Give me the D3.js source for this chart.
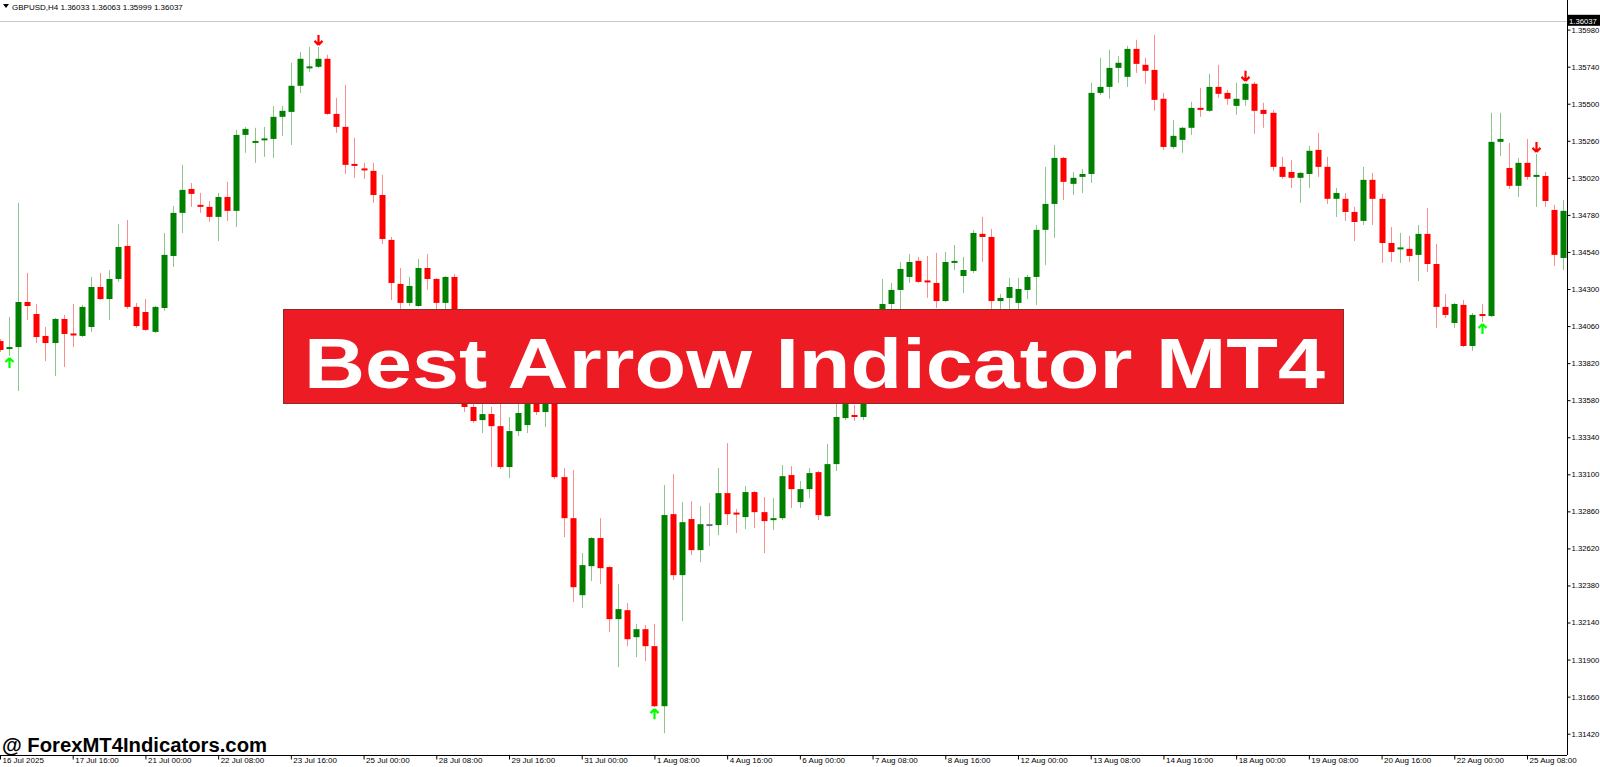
<!DOCTYPE html>
<html><head><meta charset="utf-8">
<script src="https://cdn.jsdelivr.net/npm/d3@7/dist/d3.min.js"></script>
<style>html,body{margin:0;padding:0;background:#fff;overflow:hidden}</style>
</head><body>
<svg id="c" width="1600" height="767"></svg>
<script>
// ---------------- data ----------------
const symbol = "GBPUSD,H4";
const headerQuote = ["1.36033", "1.36063", "1.35999", "1.36037"];
const bidPrice = 1.36037;

const openP = [
1.33963,1.33911,1.33924,1.34216,1.34138,1.33996,1.33950,1.34106,1.34009,1.33996,
1.34054,1.34313,1.34235,1.34365,1.34579,1.34184,1.34151,1.34022,1.34177,1.34514,
1.34793,1.34948,1.34845,1.34832,1.34767,1.34896,1.34806,1.35298,1.35246,1.35266,
1.35272,1.35415,1.35447,1.35616,1.35732,1.35739,1.35791,1.35434,1.35350,1.35110,
1.35078,1.35065,1.34909,1.34618,1.34333,1.34210,1.34190,1.34436,1.34365,1.34210,
1.34378,1.33937,1.33536,1.33451,1.33490,1.33412,1.33147,1.33380,1.33419,1.33613,
1.33503,1.33646,1.33082,1.32816,1.32317,1.32505,1.32687,1.32499,1.32162,1.32220,
1.32045,1.32097,1.31987,1.31598,1.32842,1.32447,1.32810,1.32609,1.32771,1.32771,
1.32978,1.32849,1.32823,1.32985,1.32855,1.32803,1.32816,1.33095,1.32920,1.33004,
1.33114,1.32829,1.33166,1.33464,1.33484,1.33471,1.33711,1.34002,1.34203,1.34294,
1.34378,1.34482,1.34352,1.34339,1.34222,1.34469,1.34384,1.34417,1.34657,1.34637,
1.34222,1.34242,1.34210,1.34294,1.34378,1.34683,1.34851,1.35149,1.34981,1.35026,
1.35045,1.35570,1.35609,1.35732,1.35674,1.35855,1.35752,1.35719,1.35532,1.35220,
1.35266,1.35344,1.35473,1.35454,1.35609,1.35570,1.35486,1.35525,1.35629,1.35460,
1.35441,1.35091,1.35058,1.35020,1.35045,1.35201,1.35091,1.34884,1.34884,1.34799,
1.34741,1.35007,1.34884,1.34598,1.34560,1.34560,1.34521,1.34657,1.34462,1.34184,
1.34080,1.34197,1.33931,1.34138,1.34125,1.35253,1.35084,1.34968,1.35117,1.35026,
1.35032,1.34812,1.34501];
const highP = [
1.33976,1.34119,1.34858,1.34404,1.34203,1.34054,1.34112,1.34132,1.34203,1.34197,
1.34378,1.34404,1.34423,1.34721,1.34747,1.34210,1.34235,1.34190,1.34663,1.34838,
1.35104,1.34987,1.34922,1.34870,1.34922,1.34994,1.35331,1.35350,1.35344,1.35350,
1.35486,1.35486,1.35765,1.35836,1.35868,1.35868,1.35817,1.35538,1.35622,1.35279,
1.35117,1.35117,1.35039,1.34637,1.34436,1.34378,1.34495,1.34527,1.34372,1.34384,
1.34397,1.33983,1.33581,1.33594,1.33536,1.33581,1.33471,1.33594,1.33646,1.33672,
1.33711,1.33691,1.33140,1.33127,1.32590,1.32693,1.32816,1.32505,1.32389,1.32266,
1.32130,1.32123,1.32130,1.33030,1.33101,1.32920,1.32926,1.32894,1.32914,1.33140,
1.33302,1.32875,1.33024,1.32991,1.32952,1.32946,1.33160,1.33153,1.33056,1.33140,
1.33121,1.33296,1.33562,1.33594,1.33549,1.33762,1.34067,1.34365,1.34339,1.34475,
1.34527,1.34508,1.34514,1.34534,1.34540,1.34585,1.34508,1.34683,1.34767,1.34689,
1.34268,1.34372,1.34372,1.34391,1.34715,1.35091,1.35233,1.35156,1.35058,1.35078,
1.35635,1.35797,1.35849,1.35809,1.35875,1.35914,1.35797,1.35946,1.35570,1.35395,
1.35350,1.35512,1.35603,1.35693,1.35752,1.35590,1.35635,1.35635,1.35642,1.35506,
1.35460,1.35156,1.35136,1.35058,1.35227,1.35311,1.35156,1.34955,1.34922,1.34832,
1.35091,1.35052,1.34916,1.34702,1.34663,1.34644,1.34715,1.34825,1.34592,1.34268,
1.34210,1.34229,1.34145,1.34203,1.35441,1.35441,1.35246,1.35149,1.35272,1.35175,
1.35058,1.34845,1.34877];
const lowP = [
1.33892,1.33866,1.33639,1.34099,1.33950,1.33834,1.33736,1.33795,1.33924,1.33989,
1.34022,1.34229,1.34099,1.34346,1.34171,1.34048,1.34028,1.34015,1.34158,1.34443,
1.34663,1.34832,1.34793,1.34734,1.34611,1.34741,1.34702,1.35182,1.35117,1.35156,
1.35149,1.35292,1.35233,1.35570,1.35706,1.35732,1.35428,1.35311,1.35045,1.35020,
1.35013,1.34858,1.34592,1.34229,1.34171,1.34190,1.34184,1.34294,1.34164,1.34164,
1.33892,1.33503,1.33432,1.33367,1.33147,1.33134,1.33076,1.33348,1.33367,1.33484,
1.33406,1.33069,1.32693,1.32272,1.32233,1.32408,1.32389,1.32078,1.31851,1.31987,
1.31916,1.31890,1.31592,1.31423,1.32415,1.32149,1.32577,1.32531,1.32635,1.32706,
1.32771,1.32719,1.32745,1.32752,1.32590,1.32739,1.32803,1.32881,1.32881,1.32946,
1.32803,1.32823,1.33121,1.33451,1.33445,1.33451,1.33678,1.33970,1.34164,1.34132,
1.34339,1.34339,1.34242,1.34177,1.34216,1.34423,1.34274,1.34404,1.34475,1.34151,
1.34151,1.34164,1.34164,1.34235,1.34197,1.34456,1.34631,1.34877,1.34909,1.34922,
1.34987,1.35557,1.35532,1.35635,1.35609,1.35700,1.35629,1.35454,1.35201,1.35207,
1.35182,1.35298,1.35415,1.35447,1.35538,1.35493,1.35428,1.35486,1.35305,1.35344,
1.35065,1.35013,1.34955,1.34858,1.34955,1.35026,1.34851,1.34767,1.34741,1.34611,
1.34715,1.34715,1.34469,1.34475,1.34469,1.34475,1.34352,1.34410,1.34048,1.34112,
1.34048,1.33924,1.33899,1.34086,1.34119,1.35162,1.34948,1.34896,1.35007,1.34832,
1.34832,1.34449,1.34423];
const closeP = [
1.33905,1.33924,1.34216,1.34190,1.33989,1.33950,1.34106,1.34009,1.34002,1.34184,
1.34313,1.34235,1.34365,1.34572,1.34184,1.34060,1.34035,1.34184,1.34521,1.34793,
1.34942,1.34916,1.34832,1.34767,1.34896,1.34806,1.35298,1.35337,1.35259,1.35272,
1.35415,1.35454,1.35616,1.35791,1.35739,1.35791,1.35434,1.35350,1.35104,1.35097,
1.35071,1.34909,1.34624,1.34339,1.34210,1.34320,1.34436,1.34365,1.34210,1.34378,
1.33937,1.33536,1.33445,1.33490,1.33412,1.33147,1.33380,1.33497,1.33613,1.33503,
1.33659,1.33082,1.32816,1.32369,1.32512,1.32687,1.32492,1.32162,1.32227,1.32032,
1.32097,1.31987,1.31598,1.32836,1.32447,1.32790,1.32609,1.32777,1.32771,1.32978,
1.32842,1.32842,1.32985,1.32855,1.32797,1.32816,1.33088,1.33004,1.33004,1.33108,
1.32836,1.33166,1.33471,1.33555,1.33471,1.33711,1.34002,1.34203,1.34294,1.34430,
1.34475,1.34346,1.34346,1.34222,1.34475,1.34482,1.34423,1.34663,1.34637,1.34222,
1.34242,1.34313,1.34300,1.34378,1.34683,1.34851,1.35149,1.34994,1.35020,1.35045,
1.35570,1.35609,1.35732,1.35765,1.35855,1.35758,1.35713,1.35525,1.35220,1.35292,
1.35344,1.35473,1.35460,1.35609,1.35564,1.35532,1.35532,1.35629,1.35454,1.35434,
1.35091,1.35026,1.35020,1.35052,1.35195,1.35091,1.34884,1.34922,1.34799,1.34734,
1.35007,1.34884,1.34598,1.34540,1.34566,1.34514,1.34657,1.34462,1.34184,1.34132,
1.34203,1.33931,1.34132,1.34125,1.35253,1.35272,1.34968,1.35117,1.35026,1.35039,
1.34870,1.34521,1.34806];

const upArrowBars = [1, 72, 163];
const downArrowBars = [35, 137, 169];

const dateTickBars = [0,8,16,24,32,40,48,56,64,72,80,88,96,104,112,120,128,136,144,152,160,168];
const dateTickLabels = ["16 Jul 2025","17 Jul 16:00","21 Jul 00:00","22 Jul 08:00","23 Jul 16:00",
  "25 Jul 00:00","28 Jul 08:00","29 Jul 16:00","31 Jul 00:00","1 Aug 08:00","4 Aug 16:00",
  "6 Aug 00:00","7 Aug 08:00","8 Aug 16:00","12 Aug 00:00","13 Aug 08:00","14 Aug 16:00",
  "18 Aug 00:00","19 Aug 08:00","20 Aug 16:00","22 Aug 00:00","25 Aug 08:00"];
const priceTicks = [1.35980,1.35740,1.35500,1.35260,1.35020,1.34780,1.34540,1.34300,1.34060,
  1.33820,1.33580,1.33340,1.33100,1.32860,1.32620,1.32380,1.32140,1.31900,1.31660,1.31420];

const bannerText = "Best Arrow Indicator MT4";
const watermarkText = "@ ForexMT4Indicators.com";

// ---------------- drawing ----------------
const W = 1600, H = 767;
const plotRight = 1567, plotBottom = 755;
const FONT = "'Liberation Sans', Arial, sans-serif";
const svg = d3.select("#c");
svg.append("rect").attr("width", W).attr("height", H).attr("fill", "#fff");

const x = d3.scaleLinear().domain([0, 168]).range([0, 1527]);
const y = d3.scaleLinear().domain([1.31420, 1.35980]).range([733.7, 29.6]);

const bars = d3.range(openP.length).map(i => ({i, o: openP[i], h: highP[i], l: lowP[i], c: closeP[i]}));
const colorOf = d => d.c > d.o ? "#008000" : (d.c < d.o ? "#ff0000" : "#707070");

svg.append("clipPath").attr("id", "pc").append("rect")
  .attr("x", 0).attr("y", 0).attr("width", plotRight).attr("height", plotBottom);
const plot = svg.append("g").attr("clip-path", "url(#pc)");

// bid line
plot.append("line").attr("x1", 0).attr("x2", plotRight)
  .attr("y1", Math.round(y(bidPrice)) + 0.5).attr("y2", Math.round(y(bidPrice)) + 0.5)
  .attr("stroke", "#c8c8c8").attr("stroke-width", 1);

// wicks
plot.selectAll("line.wick").data(bars).join("line").attr("class", "wick")
  .attr("x1", d => Math.round(x(d.i)) + 0.5).attr("x2", d => Math.round(x(d.i)) + 0.5)
  .attr("y1", d => y(d.h)).attr("y2", d => y(d.l))
  .attr("stroke", colorOf).attr("stroke-opacity", 0.45).attr("stroke-width", 1);

// bodies
plot.selectAll("rect.body").data(bars).join("rect").attr("class", "body")
  .attr("x", d => Math.round(x(d.i)) - 2.5).attr("width", 6)
  .attr("y", d => {
    const t = y(Math.max(d.o, d.c)), b = y(Math.min(d.o, d.c));
    return (b - t) < 2 ? (t + b) / 2 - 1 : t;
  })
  .attr("height", d => Math.max(2, y(Math.min(d.o, d.c)) - y(Math.max(d.o, d.c))))
  .attr("fill", colorOf);

// arrows
const arrowPath = "M0,0 L-4,4 M0,0 L4,4 M0,0 L0,10";
plot.selectAll("path.up").data(upArrowBars).join("path").attr("class", "up")
  .attr("d", arrowPath)
  .attr("transform", i => `translate(${Math.round(x(i)) + 0.5},${y(lowP[i]) + 2})`)
  .attr("stroke", "#00ff00").attr("stroke-width", 2.2).attr("fill", "none");
plot.selectAll("path.dn").data(downArrowBars).join("path").attr("class", "dn")
  .attr("d", arrowPath)
  .attr("transform", i => `translate(${Math.round(x(i)) + 0.5},${y(highP[i]) - 2}) scale(1,-1)`)
  .attr("stroke", "#ff0000").attr("stroke-width", 2.2).attr("fill", "none");

// header
svg.append("path").attr("d", "M3,4 L9,4 L6,8 Z").attr("fill", "#000");
svg.append("text").attr("x", 12).attr("y", 10)
  .attr("font-family", FONT).attr("font-size", 8).attr("fill", "#000")
  .text(symbol + "  " + headerQuote.join(" "));

// price axis
const yAxis = d3.axisRight(y).tickValues(priceTicks).tickFormat(d3.format(".5f")).tickSize(3).tickPadding(1);
const ya = svg.append("g").attr("transform", `translate(${plotRight + 0.5},0)`).call(yAxis);
ya.select(".domain").attr("d", `M0,0V${plotBottom}`).attr("stroke", "#000");
ya.selectAll(".tick line").attr("stroke", "#000");
ya.selectAll(".tick text").attr("font-family", FONT)
  .attr("font-size", 7.7).attr("fill", "#000");

// bid label
const bidY = y(bidPrice);
svg.append("rect").attr("x", plotRight).attr("y", bidY - 6).attr("width", W - plotRight).attr("height", 11).attr("fill", "#000");
svg.append("text").attr("x", plotRight + 2).attr("y", bidY + 3)
  .attr("font-family", FONT).attr("font-size", 7.7)
  .attr("fill", "#fff").text(bidPrice.toFixed(5));

// time axis
const xAxis = d3.axisBottom(x).tickValues(dateTickBars).tickFormat((d, k) => dateTickLabels[k]).tickSize(4).tickPadding(2);
const xa = svg.append("g").attr("transform", `translate(0,${plotBottom + 0.5})`).call(xAxis);
xa.select(".domain").attr("d", `M0,0H${plotRight}`).attr("stroke", "#000");
xa.selectAll(".tick line").attr("stroke", "#000");
xa.selectAll(".tick text").attr("text-anchor", "start").attr("dx", 2).attr("dy", "0.2em")
  .attr("font-family", FONT).attr("font-size", 8).attr("fill", "#000");

// banner
svg.append("rect").attr("x", 283.5).attr("y", 309.5).attr("width", 1060).attr("height", 94)
  .attr("fill", "#ed1c24").attr("stroke", "#8a2a2a").attr("stroke-width", 1);
svg.append("text").attr("x", 304).attr("y", 388)
  .attr("font-family", FONT).attr("font-weight", "bold")
  .attr("font-size", 71).attr("fill", "#fff")
  .attr("textLength", 1021).attr("lengthAdjust", "spacingAndGlyphs")
  .text(bannerText);

// watermark
svg.append("text").attr("x", 2).attr("y", 752)
  .attr("font-family", FONT).attr("font-weight", "bold")
  .attr("font-size", 20).attr("fill", "#000")
  .attr("textLength", 265).attr("lengthAdjust", "spacingAndGlyphs")
  .text(watermarkText);
</script>
</body></html>
